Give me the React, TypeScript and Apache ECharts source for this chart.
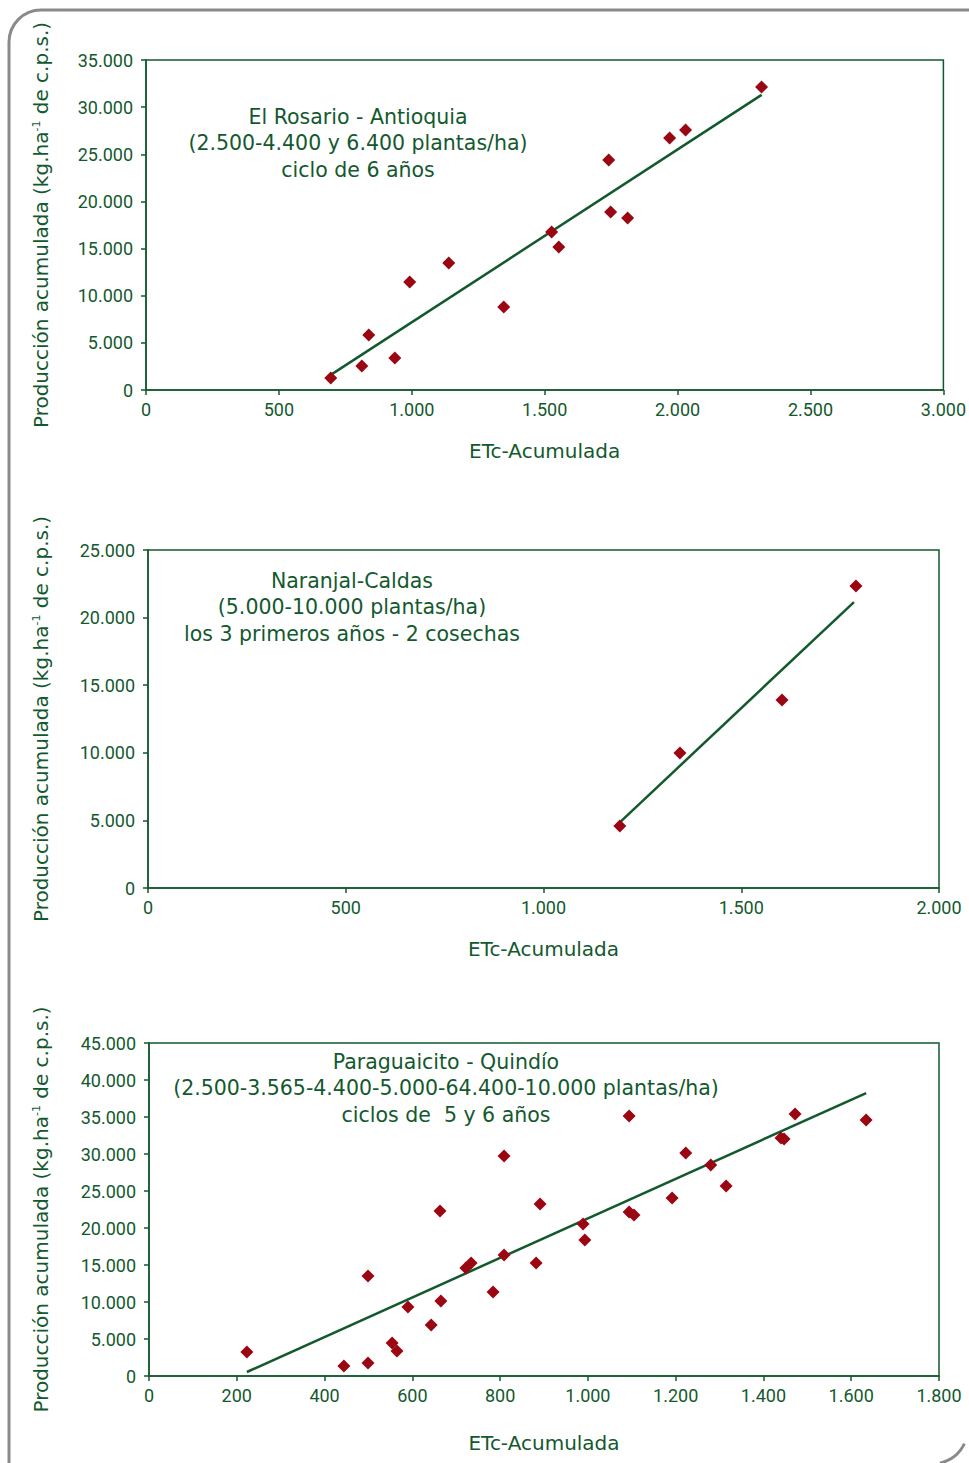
import React, { useEffect, useRef } from "react";
import * as echarts from "echarts";

// Chart 1: El Rosario - Antioquia
const rosarioX = [695, 812, 838, 936, 992, 1139, 1346, 1526, 1553, 1741, 1748, 1812, 1970, 2030, 2316];
const rosarioY = [1270, 2550, 5830, 3400, 11450, 13470, 8800, 16750, 15170, 24390, 18880, 18240, 26730, 27580, 32140];
const rosarioTrendX = [695, 2316];
const rosarioTrendY = [1600, 31300];

// Chart 2: Naranjal - Caldas
const naranjalX = [1193, 1345, 1603, 1790];
const naranjalY = [4590, 9990, 13900, 22340];
const naranjalTrendX = [1191, 1785];
const naranjalTrendY = [4800, 21150];

// Chart 3: Paraguaicito - Quindío
const paraguaicitoX = [223, 444, 499, 499, 554, 565, 590, 643, 663, 665, 722, 734, 784, 809, 809, 882, 891, 989, 993, 1094, 1094, 1105, 1192, 1223, 1280, 1315, 1440, 1447, 1472, 1634];
const paraguaicitoY = [3240, 1350, 1760, 13510, 4460, 3380, 9320, 6890, 22300, 10140, 14600, 15270, 11350, 16350, 29730, 15270, 23240, 20540, 18380, 35140, 22160, 21760, 24050, 30140, 28510, 25680, 32160, 32030, 35400, 34600];
const paraguaicitoTrendX = [223, 1634];
const paraguaicitoTrendY = [540, 38240];

const xAxisName = "ETc-Acumulada";
const yAxisName = "Producción acumulada (kg.ha{sup|-1} de c.p.s.)";

const title1 = ["El Rosario - Antioquia", "(2.500-4.400 y 6.400 plantas/ha)", "ciclo de 6 años"];
const title2 = ["Naranjal-Caldas", "(5.000-10.000 plantas/ha)", "los 3 primeros años - 2 cosechas"];
const title3 = ["Paraguaicito - Quindío", "(2.500-3.565-4.400-5.000-64.400-10.000 plantas/ha)", "ciclos de  5 y 6 años"];

const GREEN = "#13592e";
const RED = "#9a0612";
const NUM_FONT = "'Roboto', 'Liberation Sans', sans-serif";
const TEXT_FONT = "'DejaVu Sans', 'Noto Sans', sans-serif";

const fmt = (v: number) => String(v).replace(/\B(?=(\d{3})+(?!\d))/g, ".");

const zip = (xs: number[], ys: number[]) => xs.map((x, i) => [x, ys[i]]);

export default function App() {
  const ref = useRef<HTMLDivElement>(null);
  useEffect(() => {
    if (!ref.current) return;
    const chart = echarts.init(ref.current, null, { renderer: "svg" });

    const grids = [
      { left: 146, top: 60, width: 798, height: 330 },
      { left: 148, top: 550, width: 791, height: 338 },
      { left: 149, top: 1043, width: 790, height: 333 },
    ];
    const xCfg = [
      { max: 3000, interval: 500, gap: 51 },
      { max: 2000, interval: 500, gap: 51 },
      { max: 1800, interval: 200, gap: 57 },
    ];
    const yCfg = [
      { max: 35000, interval: 5000, gap: 95 },
      { max: 25000, interval: 5000, gap: 97 },
      { max: 45000, interval: 5000, gap: 98 },
    ];

    const axisLine = { show: true, lineStyle: { color: GREEN, width: 1.5 } };
    const axisTick = { show: true, length: 5, lineStyle: { color: GREEN, width: 1.5 } };
    const labelStyle = { color: GREEN, fontFamily: NUM_FONT, fontSize: 18 };

    const xAxis = xCfg.map((c, i) => ({
      type: "value",
      gridIndex: i,
      min: 0,
      max: c.max,
      interval: c.interval,
      axisLine,
      axisTick,
      splitLine: { show: false },
      axisLabel: { ...labelStyle, margin: 10, formatter: (v: number) => fmt(v) },
      name: xAxisName,
      nameLocation: "middle",
      nameGap: c.gap,
      nameTextStyle: { color: GREEN, fontFamily: TEXT_FONT, fontSize: 20 },
    }));

    const yAxis = yCfg.map((c, i) => ({
      type: "value",
      gridIndex: i,
      min: 0,
      max: c.max,
      interval: c.interval,
      axisLine,
      axisTick,
      splitLine: { show: false },
      axisLabel: { ...labelStyle, margin: 13, formatter: (v: number) => fmt(v) },
      name: yAxisName,
      nameLocation: "middle",
      nameRotate: 90,
      nameGap: c.gap,
      nameTextStyle: {
        color: GREEN,
        fontFamily: TEXT_FONT,
        fontSize: 20,
        rich: {
          sup: { fontSize: 11, verticalAlign: "top", color: GREEN, fontFamily: TEXT_FONT, padding: [0, 0, 9, 0] },
        },
      },
    }));

    const scatter = (i: number, xs: number[], ys: number[]) => ({
      type: "scatter",
      xAxisIndex: i,
      yAxisIndex: i,
      data: zip(xs, ys),
      symbol: "diamond",
      symbolSize: 13,
      itemStyle: { color: RED, opacity: 1 },
      z: 3,
    });
    const trend = (i: number, xs: number[], ys: number[]) => ({
      type: "line",
      xAxisIndex: i,
      yAxisIndex: i,
      data: zip(xs, ys),
      showSymbol: false,
      symbol: "none",
      lineStyle: { color: GREEN, width: 2.5 },
      z: 2,
    });

    const titleText = (lines: string[], cx: number, ys: number[]) =>
      lines.map((t, k) => ({
        type: "text",
        x: cx,
        y: ys[k],
        style: {
          text: t,
          fill: GREEN,
          font: `20.5px ${TEXT_FONT}`,
          align: "center",
          verticalAlign: "middle",
        },
        z: 10,
      }));

    chart.setOption({
      animation: false,
      backgroundColor: "#ffffff",
      grid: grids.map((g) => ({ ...g, show: true, borderColor: GREEN, borderWidth: 1.5, backgroundColor: "transparent" })),
      xAxis,
      yAxis,
      series: [
        trend(0, rosarioTrendX, rosarioTrendY),
        scatter(0, rosarioX, rosarioY),
        trend(1, naranjalTrendX, naranjalTrendY),
        scatter(1, naranjalX, naranjalY),
        trend(2, paraguaicitoTrendX, paraguaicitoTrendY),
        scatter(2, paraguaicitoX, paraguaicitoY),
      ],
      graphic: [
        {
          type: "rect",
          shape: { x: 9, y: 10, width: 1100, height: 2000, r: 32 },
          style: { fill: "none", stroke: "#8a8a8a", lineWidth: 3 },
          z: -1,
          silent: true,
        },
        {
          type: "arc",
          shape: { cx: 932, cy: 1428, r: 36, startAngle: 0.45, endAngle: 1.35 },
          style: { fill: "none", stroke: "#8a8a8a", lineWidth: 3 },
          silent: true,
        },
        ...titleText(title1, 358, [117, 143, 170]),
        ...titleText(title2, 352, [581, 607, 634]),
        ...titleText(title3, 446, [1062, 1088, 1115]),
      ],
    });
    return () => chart.dispose();
  }, []);
  return (
    <div
      ref={ref}
      style={{ position: "absolute", left: 0, top: 0, width: 969, height: 1463, overflow: "hidden" }}
    />
  );
}
